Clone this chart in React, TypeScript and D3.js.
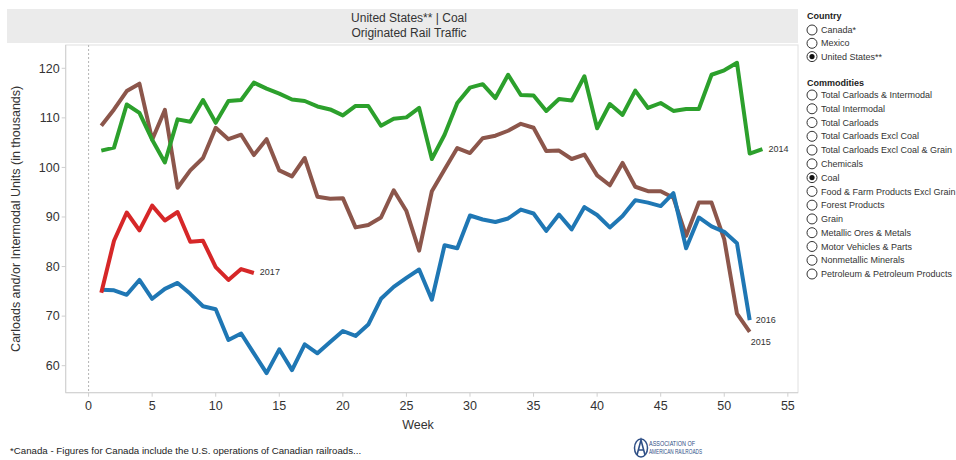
import React from "react";
import * as d3 from "d3";

const W = 956;
const H = 460;

const xTicks = [0, 5, 10, 15, 20, 25, 30, 35, 40, 45, 50, 55];
const yTicks = [60, 70, 80, 90, 100, 110, 120];

const s2014 = [103.4, 104.0, 112.7, 111.0, 105.6, 101.0, 109.7, 109.2, 113.6, 109.0,
  113.4, 113.6, 117.1, 115.9, 114.9, 113.7, 113.4, 112.3, 111.7, 110.5,
  112.4, 112.4, 108.4, 109.8, 110.1, 112.0, 101.7, 106.6, 113.0, 116.1,
  116.8, 114.0, 118.7, 114.6, 114.5, 111.4, 113.8, 113.5, 118.4, 107.9,
  112.8, 110.6, 115.5, 112.0, 113.0, 111.4, 111.8, 111.8, 118.7, 119.6,
  121.1, 102.8, 103.7];
const s2015 = [108.4, 111.7, 115.4, 116.9, 105.6, 111.6, 95.9, 99.4, 101.9, 108.0,
  105.7, 106.6, 102.5, 105.7, 99.4, 98.2, 101.9, 94.1, 93.7, 93.8,
  87.9, 88.4, 89.9, 95.4, 91.2, 83.2, 95.2, 99.6, 103.9, 102.9,
  105.9, 106.4, 107.4, 108.8, 108.0, 103.3, 103.4, 101.7, 102.6, 98.4,
  96.4, 100.9, 96.1, 95.2, 95.2, 93.9, 86.2, 92.9, 92.9, 85.5,
  70.5, 66.8];
const s2016 = [75.3, 75.2, 74.3, 77.3, 73.5, 75.5, 76.7, 74.5, 72.0, 71.4,
  65.2, 66.5, 62.5, 58.5, 63.3, 59.1, 64.3, 62.5, 64.8, 67.0,
  66.0, 68.3, 73.5, 75.9, 77.7, 79.4, 73.3, 84.3, 83.7, 90.3,
  89.5, 89.0, 89.7, 91.5, 90.7, 87.2, 90.5, 87.5, 92.0, 90.4,
  87.9, 90.2, 93.4, 92.9, 92.2, 94.8, 83.7, 89.9, 88.1, 87.0,
  84.7, 69.2];
const s2017 = [74.7, 85.2, 90.9, 87.3, 92.3, 89.3, 91.0, 85.0, 85.2, 79.9, 77.3, 79.5, 78.7];

const seriesNames = ["2015", "2014", "2016", "2017"];
const seriesValues = [s2015, s2014, s2016, s2017];
const seriesColors = ["#8c564b", "#2ca02c", "#1f77b4", "#d62728"];

const countries = ["Canada*", "Mexico", "United States**"];
const selectedCountry = "United States**";
const commodities = [
  "Total Carloads & Intermodal",
  "Total Intermodal",
  "Total Carloads",
  "Total Carloads Excl Coal",
  "Total Carloads Excl Coal & Grain",
  "Chemicals",
  "Coal",
  "Food & Farm Products Excl Grain",
  "Forest Products",
  "Grain",
  "Metallic Ores & Metals",
  "Motor Vehicles & Parts",
  "Nonmetallic Minerals",
  "Petroleum & Petroleum Products",
];
const selectedCommodity = "Coal";

const FONT = "'Liberation Sans', Arial, sans-serif";

export default function App() {
  const left = 65.7, right = 798, top = 45, bottom = 392.7;
  const x = d3.scaleLinear().domain([-1.8, 55.8]).range([left, right]);
  const y = d3.scaleLinear().domain([54.55, 124.7]).range([bottom, top]);
  const line = d3
    .line<number>()
    .x((_, i) => x(i + 1))
    .y((v) => y(v));

  const labelOffsets: Record<string, [number, number]> = {
    "2014": [6, 0],
    "2015": [1, 10],
    "2016": [6, 0],
    "2017": [6, -1],
  };

  const Radio = ({ cx, cy, sel }: { cx: number; cy: number; sel: boolean }) => (
    <g>
      <circle cx={cx} cy={cy} r={5} fill="#fff" stroke="#333" strokeWidth={1} />
      {sel && <circle cx={cx} cy={cy} r={2.6} fill="#111" />}
    </g>
  );

  return (
    <svg
      width={W}
      height={H}
      style={{ position: "absolute", left: 0, top: 0, background: "#fff" }}
      fontFamily={FONT}
    >
      {/* header */}
      <rect x={7} y={9} width={791} height={34} fill="#ebebeb" />
      <text x={409} y={22} textAnchor="middle" fontSize={12} fill="#333">
        United States** | Coal
      </text>
      <text x={409} y={37} textAnchor="middle" fontSize={12} fill="#333">
        Originated Rail Traffic
      </text>

      {/* frame */}
      <rect x={left} y={top} width={right - left} height={bottom - top} fill="none" stroke="#e0e0e0" strokeWidth={1} />
      <line x1={left} x2={left} y1={top} y2={bottom} stroke="#cfcfcf" />
      <line x1={left} x2={right} y1={bottom} y2={bottom} stroke="#cfcfcf" />

      {/* zero reference */}
      <line x1={x(0)} x2={x(0)} y1={top} y2={bottom} stroke="#b5b5b5" strokeDasharray="2,2" strokeWidth={1} />

      {/* y axis */}
      {yTicks.map((t) => (
        <g key={t}>
          <line x1={left - 4} x2={left} y1={y(t)} y2={y(t)} stroke="#cfcfcf" />
          <text x={left - 6} y={y(t)} dy="0.35em" textAnchor="end" fontSize={12.5} fill="#333">
            {t}
          </text>
        </g>
      ))}
      <text
        transform={`translate(20,${(top + bottom) / 2}) rotate(-90)`}
        textAnchor="middle"
        fontSize={12.5}
        fill="#333"
      >
        Carloads and/or Intermodal Units (in thousands)
      </text>

      {/* x axis */}
      {xTicks.map((t) => (
        <g key={t}>
          <line x1={x(t)} x2={x(t)} y1={bottom} y2={bottom + 4} stroke="#cfcfcf" />
          <text x={x(t)} y={bottom + 17} textAnchor="middle" fontSize={12.5} fill="#333">
            {t}
          </text>
        </g>
      ))}
      <text x={418} y={429} textAnchor="middle" fontSize={12.5} fill="#333">
        Week
      </text>

      {/* lines */}
      {seriesValues.map((vals, k) => (
        <path
          key={seriesNames[k]}
          d={line(vals) || ""}
          fill="none"
          stroke={seriesColors[k]}
          strokeWidth={4}
          strokeLinejoin="round"
          strokeLinecap="butt"
        />
      ))}
      {seriesValues.map((vals, k) => {
        const n = vals.length;
        const off = labelOffsets[seriesNames[k]];
        return (
          <text
            key={"l" + seriesNames[k]}
            x={x(n) + off[0]}
            y={y(vals[n - 1]) + off[1]}
            dy="0.35em"
            fontSize={9}
            fill="#333"
          >
            {seriesNames[k]}
          </text>
        );
      })}

      {/* legend */}
      <text x={807} y={19} fontSize={9} fontWeight="bold" fill="#222">
        Country
      </text>
      {countries.map((c, i) => (
        <g key={c}>
          <Radio cx={812} cy={30 + i * 13.3} sel={c === selectedCountry} />
          <text x={821} y={30 + i * 13.3} dy="0.35em" fontSize={9} fill="#333">
            {c}
          </text>
        </g>
      ))}
      <text x={807} y={86} fontSize={9} fontWeight="bold" fill="#222">
        Commodities
      </text>
      {commodities.map((c, i) => (
        <g key={c}>
          <Radio cx={812} cy={95 + i * 13.77} sel={c === selectedCommodity} />
          <text x={821} y={95 + i * 13.77} dy="0.35em" fontSize={9} fill="#333">
            {c}
          </text>
        </g>
      ))}

      {/* footnote */}
      <text x={10} y={454} fontSize={9.7} fill="#222">
        *Canada - Figures for Canada include the U.S. operations of Canadian railroads...
      </text>

      {/* logo */}
      <g>
        <ellipse cx={641} cy={448} rx={6.5} ry={9} fill="none" stroke="#2f4f86" strokeWidth={1.5} />
        <path d="M637,455 L641,440 L645,455 M638.5,450 L643.5,450" fill="none" stroke="#2f4f86" strokeWidth={1.6} />
        <text x={649} y={446} fontSize={6.5} fill="#2f4f86" textLength={46} lengthAdjust="spacingAndGlyphs">
          ASSOCIATION OF
        </text>
        <text x={649} y={454} fontSize={6.5} fill="#2f4f86" textLength={53} lengthAdjust="spacingAndGlyphs">
          AMERICAN RAILROADS
        </text>
      </g>
    </svg>
  );
}
